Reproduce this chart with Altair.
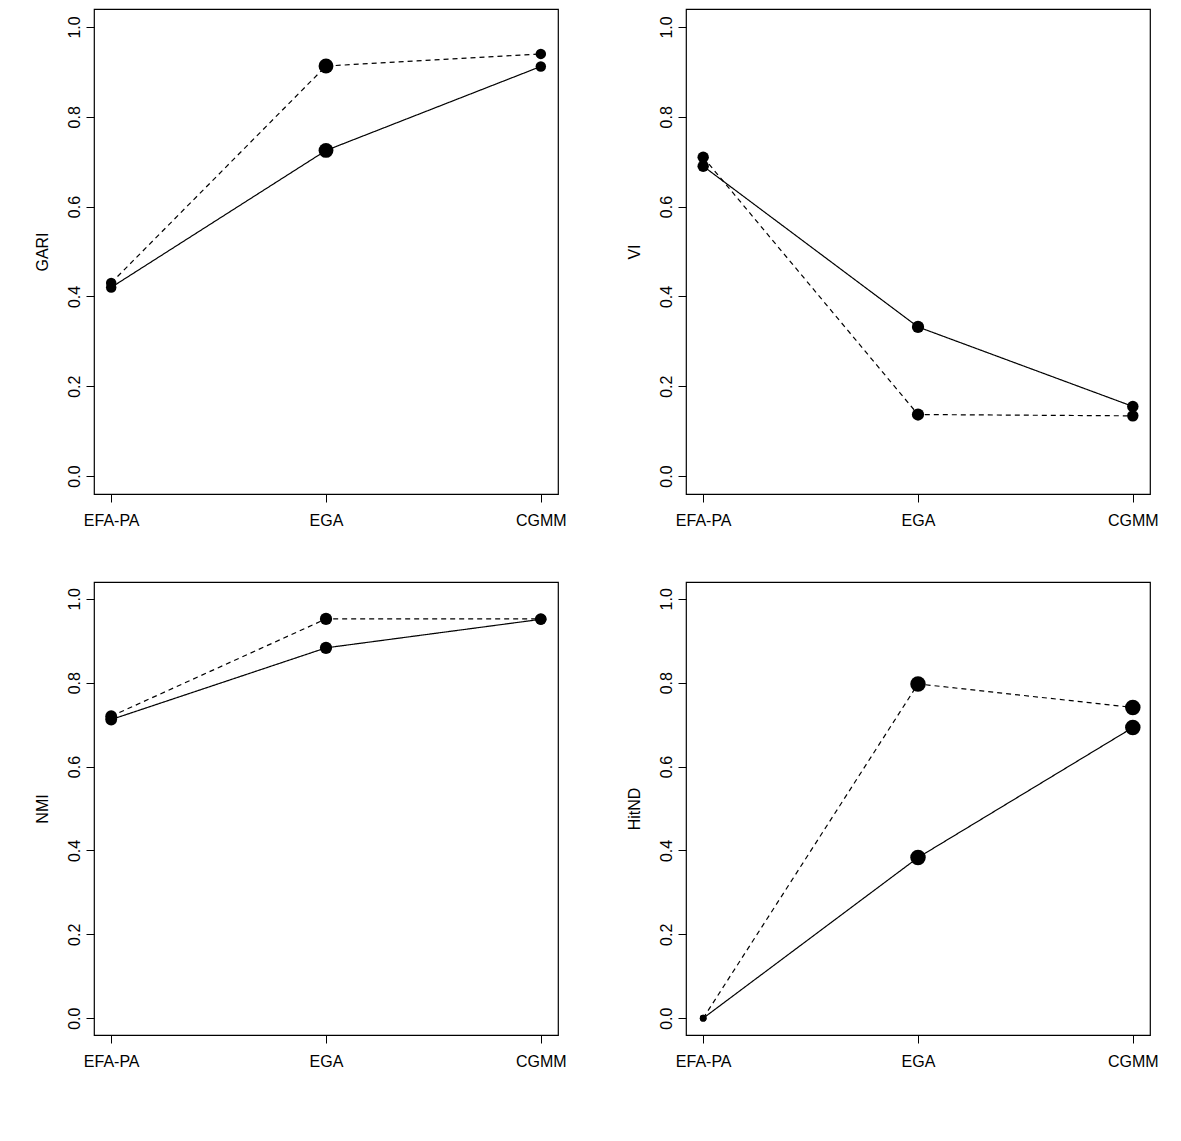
import altair as alt
import pandas as pd

methods = ["EFA-PA", "EGA", "CGMM"]
metrics = ["GARI", "VI", "NMI", "HitND"]

v5 = {
    "GARI": [0.42, 0.725, 0.912],
    "VI": [0.69, 0.332, 0.155],
    "NMI": [0.712, 0.883, 0.951],
    "HitND": [0.0, 0.383, 0.693],
}
v10 = {
    "GARI": [0.43, 0.913, 0.94],
    "VI": [0.71, 0.137, 0.134],
    "NMI": [0.72, 0.952, 0.952],
    "HitND": [0.0, 0.797, 0.741],
}
# point areas as drawn (symbol size varies per point)
sizes = {
    "GARI": [110, 220, 110],
    "VI": [130, 150, 130],
    "NMI": [140, 150, 130],
    "HitND": [45, 240, 240],
}

rows = []
for m in metrics:
    for i, meth in enumerate(methods):
        rows.append({"metric": m, "pos": i + 1, "value": v5[m][i], "V": "V=5", "size": sizes[m][i]})
        rows.append({"metric": m, "pos": i + 1, "value": v10[m][i], "V": "V=10", "size": sizes[m][i]})
df = pd.DataFrame(rows)

label_expr = "datum.value == 1 ? 'EFA-PA' : datum.value == 2 ? 'EGA' : 'CGMM'"


def panel(metric, w, h, legend):
    d = df[df["metric"] == metric]
    x = alt.X("pos:Q", scale=alt.Scale(domain=[0.92, 3.08], nice=False, zero=False),
              axis=alt.Axis(values=[1, 2, 3], labelExpr=label_expr, title=None, grid=False,
                            domain=False, tickSize=8, labelFontSize=16, labelPadding=10))
    y = alt.Y("value:Q", scale=alt.Scale(domain=[-0.04, 1.04], nice=False),
              axis=alt.Axis(values=[0, 0.2, 0.4, 0.6, 0.8, 1.0], format=".1f", title=metric,
                            grid=False, domain=False, tickSize=8, labelAngle=-90,
                            labelAlign="center", labelBaseline="bottom", labelPadding=4,
                            labelFontSize=16, titleFontSize=16, titleFontWeight="normal",
                            titlePadding=16))
    if legend:
        leg = alt.Legend(title=None, orient="none", legendX=455, legendY=1098,
                         direction="horizontal", symbolType="stroke", symbolSize=600,
                         symbolStrokeColor="black", symbolStrokeWidth=1.2,
                         labelFontSize=16, columnPadding=28)
    else:
        leg = None
    lines = alt.Chart(d).mark_line(color="black", strokeWidth=1.2).encode(
        x=x, y=y,
        strokeDash=alt.StrokeDash("V:N", scale=alt.Scale(domain=["V=5", "V=10"], range=[[1, 0], [5, 4]]),
                                  legend=leg),
    )
    pts = alt.Chart(d).mark_circle(color="black", opacity=1).encode(
        x=x, y=y, size=alt.Size("size:Q", scale=None), detail="V:N")
    return alt.layer(lines, pts).properties(width=w, height=h)


top = alt.hconcat(panel("GARI", 464, 485, False), panel("VI", 464, 485, False), spacing=58)
bottom = alt.hconcat(panel("NMI", 464, 453, False), panel("HitND", 464, 453, True), spacing=58)
chart = alt.vconcat(top, bottom, spacing=52).properties(
    padding={"left": 25, "top": 0, "right": 5, "bottom": 5}
).configure(font="Liberation Sans").configure_view(
    stroke="black", strokeWidth=1.2
).configure_axis(labelColor="black", titleColor="black", tickColor="black")
chart.save("out.html", embed_options={"renderer": "svg", "actions": False})
